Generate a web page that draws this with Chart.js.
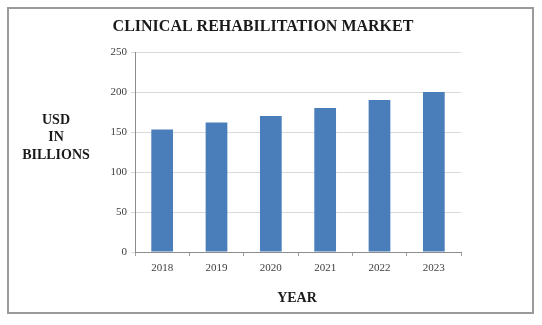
<!DOCTYPE html>
<html>
<head>
<meta charset="utf-8">
<style>
html,body{margin:0;padding:0;background:#fff;}
#wrap{position:relative;width:542px;height:325px;}
canvas{display:block;}
</style>
<script src="https://cdn.jsdelivr.net/npm/chart.js@4/dist/chart.umd.min.js"></script>
</head>
<body>
<div id="wrap"><canvas id="c" width="542" height="325"></canvas></div>
<script>
const categories = ["2018", "2019", "2020", "2021", "2022", "2023"];
const marketValues = [153, 162, 170, 180, 190, 200];
const chartTitle = "CLINICAL REHABILITATION MARKET";
const yTitleLines = ["USD", "IN", "BILLIONS"];
const xTitle = "YEAR";

const serif = "'Liberation Serif', 'Times New Roman', serif";

const decor = {
  id: 'decor',
  afterDraw(chart) {
    const ctx = chart.ctx;
    ctx.save();
    // outer frame
    ctx.strokeStyle = '#9a9a9a';
    ctx.lineWidth = 2;
    ctx.strokeRect(8, 8, 525, 305);
    ctx.fillStyle = '#1a1a1a';
    ctx.textAlign = 'center';
    ctx.textBaseline = 'middle';
    ctx.font = "bold 16px " + serif;
    ctx.fillText(chartTitle, 263, 27);
    ctx.font = "bold 14px " + serif;
    const ys = [120, 137.5, 155];
    yTitleLines.forEach((t, i) => ctx.fillText(t, 56, ys[i]));
    ctx.fillText(xTitle, 297, 298);
    ctx.restore();
  }
};

new Chart(document.getElementById('c'), {
  type: 'bar',
  data: {
    labels: categories,
    datasets: [{
      data: marketValues,
      backgroundColor: '#4a7ebb',
      borderWidth: 0,
      barPercentage: 0.4,
      categoryPercentage: 1.0
    }]
  },
  options: {
    responsive: false,
    animation: false,
    devicePixelRatio: 1,
    layout: { padding: { left: 100, right: 81, top: 52, bottom: 43 } },
    plugins: { legend: { display: false }, title: { display: false }, tooltip: { enabled: false } },
    scales: {
      x: {
        afterFit: s => { s.height = 30; },
        grid: { display: true, drawOnChartArea: false, drawTicks: true, tickLength: 4, color: '#a0a0a0', offset: true },
        border: { display: true, color: '#8c8c8c', width: 1 },
        ticks: { color: '#404040', font: { family: serif, size: 11 }, padding: 6 }
      },
      y: {
        min: 0, max: 250,
        afterFit: s => { s.width = 35; },
        grid: { color: '#d9d9d9', tickLength: 4, drawTicks: true },
        border: { display: true, color: '#8c8c8c', width: 1 },
        ticks: { stepSize: 50, color: '#404040', font: { family: serif, size: 11 }, padding: 4 }
      }
    }
  },
  plugins: [decor]
});
</script>
</body>
</html>
